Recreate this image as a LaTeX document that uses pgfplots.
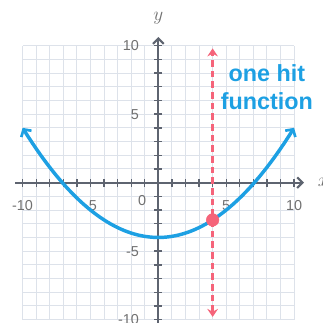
\documentclass[border=0pt]{standalone}
\usepackage{pgfplots}
\pgfplotsset{compat=1.18}
\usepackage{fontspec}
\setmainfont{Liberation Sans}
\usetikzlibrary{arrows.meta}

\definecolor{axisgray}{HTML}{5E6470}
\definecolor{labelgray}{HTML}{707070}
\definecolor{gridgray}{HTML}{DDE2EA}
\definecolor{curveblue}{HTML}{1DA0E3}
\definecolor{hitred}{HTML}{F5647A}

\begin{document}
\begin{tikzpicture}
\useasboundingbox (0,0) rectangle (242.25pt,242.25pt);
\begin{axis}[
    at={(16.95pt,2.5pt)}, anchor=south west,
    scale only axis,
    width=203.6pt, height=205.5pt,
    axis lines=middle,
    xmin=-10, xmax=10, ymin=-10, ymax=10,
    clip=false,
    xtick={-10,-5,5,10},
    ytick={-10,-5,5,10},
    xticklabels={-10,-5,5,10},
    yticklabels={-10,-5,5,10},
    minor xtick={-9,-8,-7,-6,-4,-3,-2,-1,1,2,3,4,6,7,8,9},
    minor ytick={-9,-8,-7,-6,-4,-3,-2,-1,1,2,3,4,6,7,8,9},
    grid=both,
    major grid style={gridgray, line width=0.75pt},
    minor grid style={gridgray, line width=0.75pt},
    tick align=center,
    major tick length=6pt,
    minor tick length=6pt,
    every tick/.style={axisgray, line width=1pt},
    x axis line style={axisgray, line width=1.6pt,
        -{Straight Barb[length=4pt,width=8pt,line width=1.6pt]},
        shorten <=-5.6pt, shorten >=-7.5pt},
    y axis line style={axisgray, line width=1.6pt,
        -{Straight Barb[length=4pt,width=8pt,line width=1.6pt]},
        shorten <=-5pt, shorten >=-6.5pt},
    tick label style={labelgray, font=\fontsize{10.8}{12}\selectfont},
    xticklabel style={anchor=north, yshift=-7pt},
    yticklabel style={anchor=east, xshift=-8pt},
    xlabel={$x$}, ylabel={$y$},
    xlabel style={labelgray, font=\fontsize{14}{16}\selectfont,
        at={(axis description cs:1.07,0.5)}, anchor=west},
    ylabel style={labelgray, font=\fontsize{14}{16}\selectfont,
        at={(axis description cs:0.5,1.10)}, anchor=center},
]
% the parabola
\addplot[curveblue, line width=2.6pt, smooth,
    {Straight Barb[length=4pt,width=9pt,line width=2pt]}-{Straight Barb[length=4pt,width=9pt,line width=2pt]}]
    coordinates {
    (-10,4) (-9.5,3.22) (-9,2.48) (-8.5,1.78) (-8,1.12) (-7.5,0.5)
    (-7,-0.08) (-6.5,-0.62) (-6,-1.12) (-5.5,-1.58) (-5,-2) (-4.5,-2.38)
    (-4,-2.72) (-3.5,-3.02) (-3,-3.28) (-2.5,-3.5) (-2,-3.68) (-1.5,-3.82)
    (-1,-3.92) (-0.5,-3.98) (0,-4) (0.5,-3.98) (1,-3.92) (1.5,-3.82)
    (2,-3.68) (2.5,-3.5) (3,-3.28) (3.5,-3.02) (4,-2.72) (4.5,-2.38)
    (5,-2) (5.5,-1.58) (6,-1.12) (6.5,-0.62) (7,-0.08) (7.5,0.5)
    (8,1.12) (8.5,1.78) (9,2.48) (9.5,3.22) (10,4)
    };
% vertical line test
\addplot[hitred, line width=2.2pt, dash pattern=on 5pt off 3pt,
    {Stealth[length=6pt,width=8pt,inset=2pt]}-{Stealth[length=6pt,width=8pt,inset=2pt]}]
    coordinates {(4,-9.8) (4,9.8)};
\addplot[only marks, mark=*, mark size=4.7pt, color=hitred] coordinates {(4,-2.72)};
\node[labelgray, font=\fontsize{10.8}{12}\selectfont] at (axis cs:-1.19,-1.27) {0};
\node[curveblue, font=\bfseries\fontsize{17.5}{21}\selectfont, anchor=base] at (axis cs:8,7.38) {one hit};
\node[curveblue, font=\bfseries\fontsize{17.5}{21}\selectfont, anchor=base] at (axis cs:8,5.33) {function};
\end{axis}
\end{tikzpicture}
\end{document}
